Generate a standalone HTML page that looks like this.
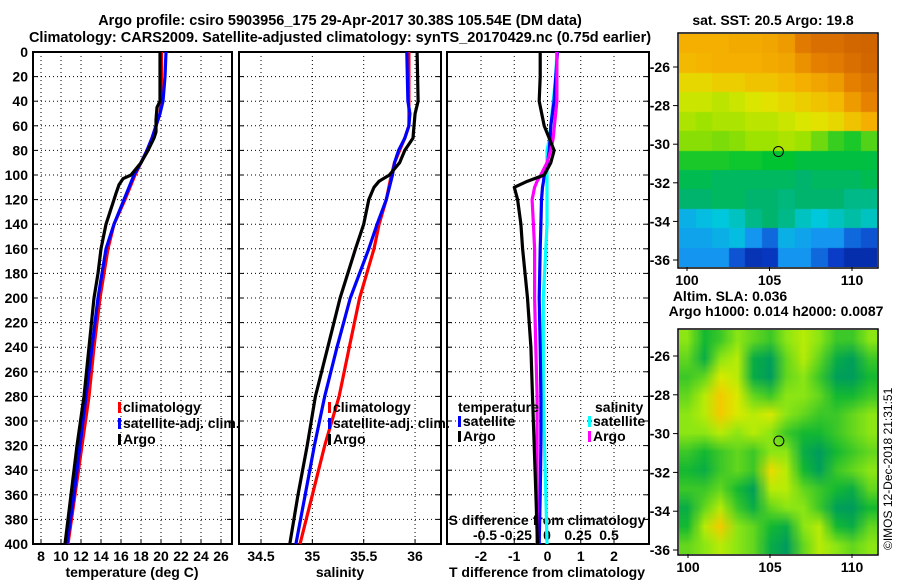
<!DOCTYPE html>
<html><head><meta charset="utf-8"><style>
body{margin:0;background:#fff;width:900px;height:580px;overflow:hidden;position:relative;font-family:"Liberation Sans",sans-serif}
svg{position:absolute;left:0;top:0}
canvas{position:absolute}
text{font-family:"Liberation Sans",sans-serif;font-weight:bold;font-size:14px;fill:#000}
</style></head><body>
<canvas id="sst" style="left:679px;top:34px" width="198" height="233"></canvas>
<canvas id="sla" style="left:679px;top:330px" width="198" height="224"></canvas>
<svg id="s" width="900" height="580"></svg>
<script>
const depths=[0,20,40,50,60,70,80,90,100,110,120,140,160,180,200,240,280,320,360,400];
const tClim=[20.05,20.05,20.0,19.9,19.5,19.1,18.6,18.0,17.4,16.9,16.4,15.3,14.7,14.3,13.9,13.3,12.8,12.1,11.4,10.7];
const tSat=[20.5,20.4,20.2,19.9,19.5,19.1,18.6,18.0,17.3,16.8,16.3,15.3,14.5,14.1,13.7,13.1,12.5,11.9,11.3,10.6];
const argoDepths=[0,20,40,45,55,65,70,80,90,100,103,108,115,120,140,160,180,200,240,280,320,360,400];
const tArgo=[19.9,19.9,19.9,19.6,19.5,19.5,19.3,18.7,18.0,17.0,16.2,15.8,15.5,15.3,14.5,14.0,13.7,13.3,12.8,12.3,11.6,11.0,10.4];
const sArgoDepths=[0,40,50,60,70,80,90,100,105,110,120,140,160,200,240,280,320,360,400];
const sArgo=[36.02,36.03,36.0,35.99,35.98,35.9,35.85,35.75,35.65,35.6,35.55,35.5,35.42,35.27,35.15,35.03,34.95,34.86,34.78];
const sDepths=[0,40,50,60,70,80,90,100,120,140,160,200,240,280,320,360,400];
const sSat=[35.92,35.93,35.95,35.94,35.9,35.84,35.8,35.78,35.72,35.63,35.55,35.37,35.24,35.12,35.02,34.93,34.84];
const sClim=[35.94,35.94,35.94,35.94,35.9,35.85,35.8,35.77,35.72,35.65,35.6,35.46,35.36,35.26,35.12,35.0,34.88];
const dDepths=[0,20,40,60,70,80,90,100,105,110,120,140,160,200,240,280,320,360,400];
const dTArgo=[-0.22,-0.22,-0.25,-0.1,0.05,0.2,0.1,-0.1,-0.6,-1.0,-0.9,-0.8,-0.75,-0.6,-0.5,-0.45,-0.4,-0.35,-0.3];
const dTSat=[0.3,0.25,0.2,0.1,0.08,0.05,0.0,-0.1,-0.12,-0.15,-0.18,-0.2,-0.22,-0.25,-0.22,-0.2,-0.2,-0.22,-0.25];
const dSArgo=[0.08,0.08,0.08,0.06,0.05,0.03,0.0,-0.05,-0.08,-0.1,-0.12,-0.11,-0.1,-0.1,-0.09,-0.08,-0.08,-0.08,-0.08];
const dSSat=[0.08,0.07,0.05,0.03,0.02,0.0,0.0,0.0,0.0,0.0,0.0,0.0,-0.01,-0.03,-0.03,-0.03,-0.02,-0.01,0.0];
const depthTicks=[0,20,40,60,80,100,120,140,160,180,200,220,240,260,280,300,320,340,360,380,400];
const tTicks=[8,10,12,14,16,18,20,22,24,26];
const sTicks=[34.5,35,35.5,36];
const dtTicks=[-2,-1,0,1,2];
const dsTicks=[-0.5,-0.25,0,0.25,0.5];
const sstGrid=[
[.76,.76,.76,.77,.77,.78,.8,.88,.92,.92,.95,.96],
[.74,.75,.76,.76,.76,.77,.78,.82,.86,.88,.92,.95],
[.68,.68,.7,.7,.72,.72,.74,.76,.78,.8,.86,.9],
[.62,.62,.6,.62,.64,.66,.68,.7,.72,.74,.8,.85],
[.58,.56,.58,.58,.6,.6,.62,.64,.66,.68,.72,.76],
[.54,.54,.53,.54,.56,.56,.58,.56,.52,.48,.46,.5],
[.46,.46,.46,.45,.45,.44,.44,.42,.42,.42,.42,.42],
[.4,.4,.38,.38,.38,.38,.38,.36,.38,.38,.38,.4],
[.36,.36,.38,.38,.36,.36,.35,.36,.36,.36,.34,.34],
[.24,.26,.28,.3,.34,.36,.34,.3,.28,.3,.32,.3],
[.22,.22,.24,.26,.2,.16,.24,.22,.2,.2,.16,.14],
[.2,.2,.2,.14,.08,.1,.2,.2,.16,.12,.06,.06]];
const slaGrid=[
[.5,.35,.4,.5,.45,.4,.5,.55,.5,.4,.4,.5],
[.45,.3,.5,.55,.3,.25,.45,.55,.45,.3,.25,.4],
[.4,.45,.6,.55,.3,.2,.45,.5,.4,.25,.2,.35],
[.45,.55,.7,.6,.45,.4,.5,.5,.45,.35,.35,.4],
[.5,.55,.7,.6,.55,.6,.5,.45,.4,.4,.45,.5],
[.5,.5,.55,.5,.55,.5,.4,.35,.35,.4,.45,.5],
[.4,.35,.4,.45,.4,.5,.5,.3,.2,.35,.4,.45],
[.35,.3,.4,.45,.4,.65,.55,.35,.25,.4,.45,.5],
[.4,.4,.45,.35,.25,.55,.55,.45,.4,.35,.3,.45],
[.3,.45,.55,.4,.3,.45,.5,.5,.4,.25,.2,.35],
[.35,.55,.7,.5,.45,.35,.3,.5,.55,.35,.3,.45],
[.45,.5,.55,.5,.45,.3,.2,.45,.55,.5,.45,.5]];
const latTicks=[-26,-28,-30,-32,-34,-36];
const lonTicks=[100,105,110];

const NS='http://www.w3.org/2000/svg';const S=document.getElementById('s');
function el(t,a,txt){const e=document.createElementNS(NS,t);for(const k in a)e.setAttribute(k,a[k]);if(txt!==undefined)e.textContent=txt;S.appendChild(e);return e;}
const y=d=>52+d*1.23;
const xT=t=>41+(t-8)*10;
const xS=s=>261+(s-34.5)*102.7;
const xDT=t=>547.5+t*33.25;
const xDS=s=>547+s*124;
function txt(x,yy,s,anchor,name){const e=el('text',{x:x,y:yy,'text-anchor':anchor||'start'},s);

return e;}
function panel(x0,x1,name){
 depthTicks.forEach(d=>{if(d>0&&d<400){const l=el('line',{x1:x0,x2:x1,y1:y(d),y2:y(d),stroke:'#000','stroke-dasharray':'1,3'});
 
 }
 el('line',{x1:x0,x2:x0+5,y1:y(d),y2:y(d),stroke:'#000'});el('line',{x1:x1-5,x2:x1,y1:y(d),y2:y(d),stroke:'#000'});});
 const r=el('rect',{x:x0,y:52,width:x1-x0,height:492,fill:'none',stroke:'#000','stroke-width':2});
 
 
}
function vgrid(xs,name){xs.forEach(x=>{const l=el('line',{x1:x,x2:x,y1:52,y2:544,stroke:'#000','stroke-dasharray':'1,3'});
 
 
 el('line',{x1:x,x2:x,y1:539,y2:544,stroke:'#000'});});}
function line(ds,vs,fx,col,name){const p=ds.map((d,i)=>fx(vs[i]).toFixed(1)+','+y(d).toFixed(1)).join(' ');
 const e=el('polyline',{points:p,fill:'none',stroke:col,'stroke-width':3.2,'stroke-linejoin':'round'});
 
 }
function legend(x,yy,col,label,name){const r=el('rect',{x:x,y:yy-10,width:3,height:11,fill:col});
 
 
 txt(x+5,yy,label,'start',name);}

txt(340,25,'Argo profile: csiro 5903956_175 29-Apr-2017 30.38S 105.54E (DM data)','middle','main-title').setAttribute('style','font-size:14.5px');
txt(340,42,'Climatology: CARS2009. Satellite-adjusted climatology: synTS_20170429.nc (0.75d earlier)','middle','subtitle').setAttribute('style','font-size:14.5px');

vgrid(tTicks.map(xT),'temp-grid');panel(33,232,'temperature-panel');
depthTicks.forEach(d=>txt(28,y(d)+5,String(d),'end','depth-tick-label'));
tTicks.forEach(t=>txt(xT(t),561,String(t),'middle','temp-tick-label'));
txt(132,577,'temperature (deg C)','middle','temperature-axis-title');
line(depths,tClim,xT,'#f00','temp-climatology-line');
line(depths,tSat,xT,'#00f','temp-satellite-line');
line(argoDepths,tArgo,xT,'#000','temp-argo-line');
legend(118,412,'#f00','climatology','legend-climatology');
legend(118,428,'#00f','satellite-adj. clim.','legend-satellite');
legend(118,444,'#000','Argo','legend-argo');

vgrid(sTicks.map(xS),'sal-grid');panel(239,441,'salinity-panel');
sTicks.forEach(s=>txt(xS(s),561,String(s),'middle','sal-tick-label'));
txt(340,577,'salinity','middle','salinity-axis-title');
line(sDepths,sClim,xS,'#f00','sal-climatology-line');
line(sDepths,sSat,xS,'#00f','sal-satellite-line');
line(sArgoDepths,sArgo,xS,'#000','sal-argo-line');
legend(328,412,'#f00','climatology','legend-sal-climatology');
legend(328,428,'#00f','satellite-adj. clim.','legend-sal-satellite');
legend(328,444,'#000','Argo','legend-sal-argo');

vgrid(dtTicks.map(xDT),'diff-grid');panel(447,649,'difference-panel');
dtTicks.forEach(t=>txt(xDT(t),561,String(t),'middle','tdiff-tick-label'));
txt(547,577,'T difference from climatology','middle','tdiff-axis-title');
txt(547,525,'S difference from climatology','middle','sdiff-axis-title');
dsTicks.forEach(s=>txt(xDS(s),540,String(s),'middle','sdiff-tick-label'));
line(dDepths,dSSat,xDS,'#0ff','sdiff-satellite-line');
line(dDepths,dTSat,xDT,'#00f','tdiff-satellite-line');
line(dDepths,dSArgo,xDS,'#f0f','sdiff-argo-line');
line(dDepths,dTArgo,xDT,'#000','tdiff-argo-line');
txt(458,412,'temperature','start','legend-temperature-heading');
txt(595,412,'salinity','start','legend-salinity-heading');
legend(458,426,'#00f','satellite','legend-tdiff-satellite');
legend(458,441,'#000','Argo','legend-tdiff-argo');
legend(588,426,'#0ff','satellite','legend-sdiff-satellite');
legend(588,441,'#f0f','Argo','legend-sdiff-argo');

function mapAxes(top,h,latY,lonX,nm){
 const r=el('rect',{x:678,y:top-1,width:200,height:h+2,fill:'none',stroke:'#000','stroke-width':1.5});
 
 
 latTicks.forEach(l=>{const yy=latY(l);el('line',{x1:673,x2:678,y1:yy,y2:yy,stroke:'#000'});txt(670,yy+5,String(l),'end',nm+'-lat-label');});
 lonTicks.forEach(l=>{const xx=lonX(l);el('line',{x1:xx,x2:xx,y1:top+h,y2:top+h+4,stroke:'#000'});txt(xx,top+h+18,String(l),'middle',nm+'-lon-label');});
 const c=el('circle',{cx:lonX(105.54),cy:latY(-30.38),r:5,fill:'none',stroke:'#000','stroke-width':1});
 
 
}
const sstLat=l=>67+(-26-l)*19.3, sstLon=l=>687+(l-100)*16.5;
const slaLat=l=>356+(-26-l)*19.4, slaLon=l=>688+(l-100)*16.4;
txt(773,25,'sat. SST: 20.5 Argo: 19.8','middle','sst-map-title');
txt(730,301,'Altim. SLA: 0.036','middle','sla-map-title');
txt(776,316,'Argo h1000: 0.014 h2000: 0.0087','middle','sla-map-subtitle');
mapAxes(34,233,sstLat,sstLon,'sst');
mapAxes(330,224,slaLat,slaLon,'sla');
const ts=el('text',{x:0,y:0,transform:'translate(892,550) rotate(-90)'},'©IMOS 12-Dec-2018 21:31:51');
ts.setAttribute('style','font-weight:normal;font-size:12px');



function lerp(stops,v){for(let i=1;i<stops.length;i++){if(v<=stops[i][0]){const a=stops[i-1],b=stops[i],f=(v-a[0])/(b[0]-a[0]);return a[1].map((c,k)=>Math.round(c+(b[1][k]-c)*f));}}return stops[stops.length-1][1];}
const sstCmap=[[0,[0,32,144]],[.12,[10,60,200]],[.2,[20,150,240]],[.28,[0,200,220]],[.36,[0,180,110]],[.44,[0,195,50]],[.55,[150,225,0]],[.65,[225,230,0]],[.75,[245,180,0]],[.85,[230,130,0]],[1,[200,90,0]]];
const slaCmap=[[0,[0,140,110]],[.25,[0,160,90]],[.35,[20,185,50]],[.5,[140,230,20]],[.58,[210,240,0]],[.68,[245,210,0]],[.8,[240,160,0]],[1,[230,120,0]]];
function draw(id,grid,cmap,smooth){const cv=document.getElementById(id),ctx=cv.getContext('2d');
 const o=document.createElement('canvas');o.width=12;o.height=12;const oc=o.getContext('2d');const im=oc.createImageData(12,12);
 grid.forEach((row,r)=>row.forEach((v,c)=>{const col=lerp(cmap,v),i=(r*12+c)*4;im.data[i]=col[0];im.data[i+1]=col[1];im.data[i+2]=col[2];im.data[i+3]=255;}));
 oc.putImageData(im,0,0);ctx.imageSmoothingEnabled=smooth;ctx.drawImage(o,0,0,cv.width,cv.height);}
draw('sst',sstGrid,sstCmap,false);
draw('sla',slaGrid,slaCmap,true);
</script>
</body></html>
